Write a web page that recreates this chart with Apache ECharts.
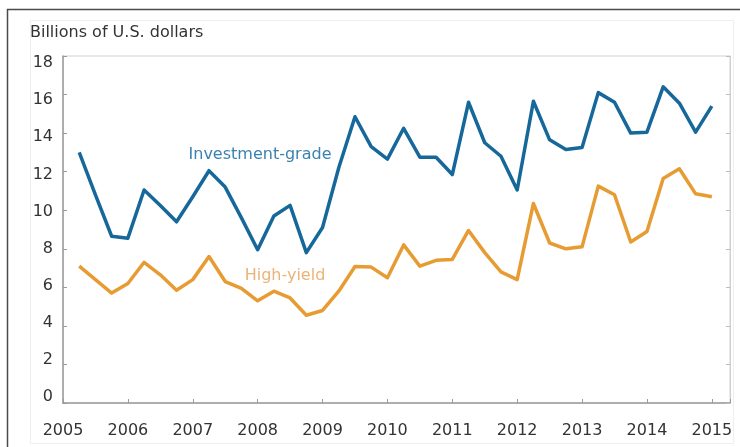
<!DOCTYPE html>
<html>
<head>
<meta charset="utf-8">
<script src="https://cdn.jsdelivr.net/npm/echarts@6/dist/echarts.min.js"></script>
<style>
  html, body { margin: 0; padding: 0; background: #fff; }
  #chart { width: 740px; height: 447px; }
</style>
</head>
<body>
<div id="chart"></div>
<script>
// quarterly bond issuance, billions of U.S. dollars
const quarters = [
  '2005Q1', '2005Q2', '2005Q3', '2005Q4', '2006Q1', '2006Q2', '2006Q3', '2006Q4',
  '2007Q1', '2007Q2', '2007Q3', '2007Q4', '2008Q1', '2008Q2', '2008Q3', '2008Q4',
  '2009Q1', '2009Q2', '2009Q3', '2009Q4', '2010Q1', '2010Q2', '2010Q3', '2010Q4',
  '2011Q1', '2011Q2', '2011Q3', '2011Q4', '2012Q1', '2012Q2', '2012Q3', '2012Q4',
  '2013Q1', '2013Q2', '2013Q3', '2013Q4', '2014Q1', '2014Q2', '2014Q3', '2014Q4'
];
const investmentGrade = [
  13.0, 10.8, 8.65, 8.55, 11.05, 10.25, 9.4, 10.7,
  12.05, 11.2, 9.6, 7.95, 9.7, 10.25, 7.8, 9.1,
  12.2, 14.85, 13.3, 12.65, 14.25, 12.75, 12.75, 11.85,
  15.6, 13.5, 12.8, 11.05, 15.65, 13.65, 13.15, 13.25,
  16.1, 15.6, 14.0, 14.05, 16.4, 15.55, 14.05, 15.4
];
const highYield = [
  7.1, 6.4, 5.7, 6.2, 7.3, 6.65, 5.85, 6.4,
  7.6, 6.3, 5.95, 5.3, 5.8, 5.45, 4.55, 4.8,
  5.8, 7.08, 7.05, 6.5, 8.2, 7.1, 7.4, 7.45,
  8.95, 7.8, 6.8, 6.4, 10.35, 8.3, 8.0, 8.1,
  11.25, 10.8, 8.35, 8.9, 11.65, 12.15, 10.85, 10.7
];
const yTicks = [0, 2, 4, 6, 8, 10, 12, 14, 16, 18];

// each quarter is plotted at its end: 2005Q1 -> 2005.25
function quarterPos(q) {
  const year = parseInt(q.slice(0, 4), 10);
  const n = parseInt(q.slice(5), 10);
  return year + n * 0.25;
}
const igData = quarters.map((q, i) => [quarterPos(q), investmentGrade[i]]);
const hyData = quarters.map((q, i) => [quarterPos(q), highYield[i]]);

const font = 'DejaVu Sans';
const myChart = echarts.init(document.getElementById('chart'));

const option = {
  animation: false,
  backgroundColor: '#fff',
  grid: {
    left: 63, right: 10, top: 56, bottom: 44,
    show: true, borderColor: '#d2d2d2', borderWidth: 1
  },
  graphic: [
    // faint inner panel
    { type: 'rect', shape: { x: 30.5, y: 20.5, width: 703, height: 423 },
      style: { fill: 'none', stroke: '#efefef', lineWidth: 1 }, z: 0 },
    // outer frame, left and top
    { type: 'polyline', shape: { points: [[7.5, 447], [7.5, 9.5], [740, 9.5]] },
      style: { fill: 'none', stroke: '#4a4a4a', lineWidth: 1.5 }, z: 0 },
    { type: 'text', left: 30, top: 25,
      style: { text: 'Billions of U.S. dollars', fill: '#333', font: '16px "DejaVu Sans"' } },
    { type: 'text', x: 260, y: 155,
      style: { text: 'Investment-grade', fill: '#3b82b0', font: '16px "DejaVu Sans"',
        align: 'center', verticalAlign: 'middle' } },
    { type: 'text', x: 285, y: 276,
      style: { text: 'High-yield', fill: '#ebb377', font: '16px "DejaVu Sans"',
        align: 'center', verticalAlign: 'middle' } }
  ],
  xAxis: {
    type: 'value',
    min: 2005,
    max: 2015.28,
    interval: 1,
    axisLine: { lineStyle: { color: '#9a9a9a', width: 1.5 } },
    axisTick: { inside: true, length: 4, lineStyle: { color: '#9a9a9a' } },
    axisLabel: {
      color: '#333', fontSize: 16, fontFamily: font, margin: 20,
      formatter: v => (Number.isInteger(v) ? String(v) : '')
    },
    splitLine: { show: false }
  },
  yAxis: [
    {
      type: 'value',
      min: yTicks[0],
      max: yTicks[yTicks.length - 1],
      interval: 2,
      axisLine: { show: true, lineStyle: { color: '#9a9a9a', width: 1.5 } },
      axisTick: { show: true, inside: true, length: 4, lineStyle: { color: '#9a9a9a' } },
      axisLabel: { show: false },
      splitLine: { show: false }
    },
    {
      type: 'value',
      position: 'right',
      min: yTicks[0],
      max: yTicks[yTicks.length - 1],
      interval: 2,
      axisLine: { show: true, lineStyle: { color: '#cfcfcf' } },
      axisTick: { show: true, inside: true, length: 4, lineStyle: { color: '#bdbdbd' } },
      axisLabel: { show: false },
      splitLine: { show: false }
    },
    {
      // tick labels sit slightly inside the tick range in the original
      type: 'value',
      position: 'left',
      min: -0.32,
      max: 18.38,
      axisLine: { show: false },
      axisTick: { show: false },
      axisLabel: { color: '#333', fontSize: 16, fontFamily: font, margin: 10, customValues: yTicks },
      splitLine: { show: false }
    }
  ],
  series: [
    {
      name: 'Investment-grade',
      type: 'line',
      data: igData,
      symbol: 'none',
      lineStyle: { color: '#16689a', width: 3.5, join: 'round' },
      z: 3
    },
    {
      name: 'High-yield',
      type: 'line',
      data: hyData,
      symbol: 'none',
      lineStyle: { color: '#e69c33', width: 3.5, join: 'round' },
      z: 2
    }
  ]
};
myChart.setOption(option);
window.addEventListener('resize', myChart.resize);
</script>
</body>
</html>
